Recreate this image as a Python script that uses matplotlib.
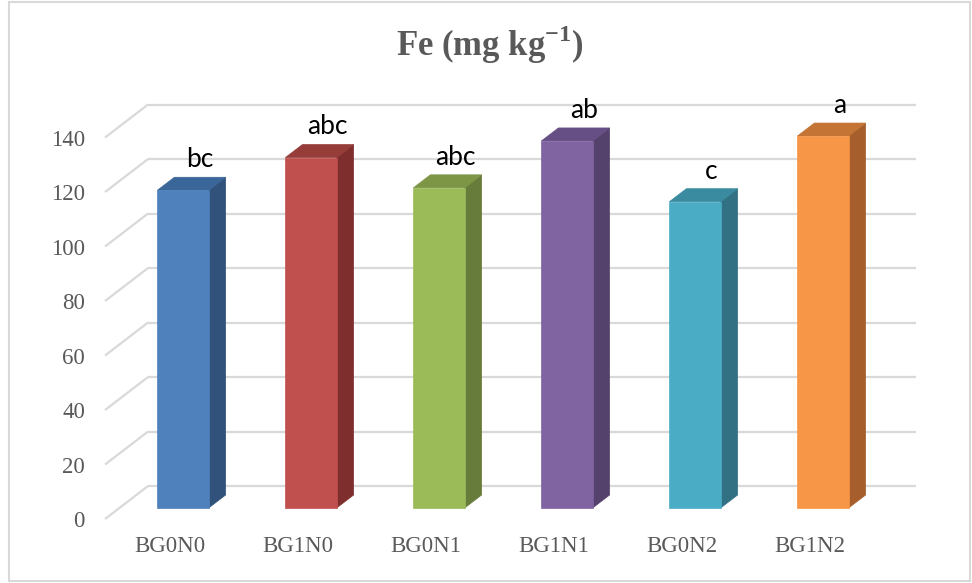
import matplotlib
matplotlib.use("Agg")
import matplotlib.pyplot as plt
from matplotlib.patches import Polygon, Rectangle

categories = ["BG0N0", "BG1N0", "BG0N1", "BG1N1", "BG0N2", "BG1N2"]
values = [116.6, 128.6, 117.5, 134.7, 112.4, 136.5]
letters = ["bc", "abc", "abc", "ab", "c", "a"]
yticks = [0, 20, 40, 60, 80, 100, 120, 140]

front_colors = ["#4F81BD", "#C0504D", "#9BBB59", "#8064A2", "#4BACC6", "#F79646"]
side_colors = ["#31527A", "#7E2F2D", "#677B3A", "#54426D", "#317183", "#A65F2C"]
top_colors = ["#3B6699", "#963D3A", "#7D9646", "#664F85", "#3A8AA0", "#C47535"]

plt.rcParams['mathtext.fontset'] = 'custom'
plt.rcParams['mathtext.rm'] = 'Liberation Serif:bold'
plt.rcParams['mathtext.bf'] = 'Liberation Serif:bold'

fig = plt.figure(figsize=(9.72, 5.83), dpi=100)
ax = fig.add_axes([0, 0, 1, 1])
pxu = 128.0       # pixels per category
pyu = 2.725       # pixels per value unit
ax.set_xlim(-183 / pxu, (972 - 183) / pxu)
ax.set_ylim(-75 / pyu, 508 / pyu)
ax.axis("off")

# outer border
fig.patches.append(Rectangle((9 / 972, 2 / 583), 961 / 972, 579 / 583, transform=fig.transFigure,
                             fill=False, edgecolor="#D9D9D9", linewidth=1.5))

grid_c = "#D9D9D9"
front_x, back_x, right_x = -0.609, -0.273, 5.73
front_dy, back_dy = -4.04, 8.07
for v in yticks:
    ax.plot([front_x, back_x], [v + front_dy, v + back_dy], color=grid_c, lw=1.6, zorder=1,
            solid_capstyle="butt")
    ax.plot([back_x, right_x], [v + back_dy, v + back_dy], color=grid_c, lw=1.6, zorder=1,
            solid_capstyle="butt")
    ax.text(-0.766, v + front_dy - 1.0, str(v), ha="right", va="center", fontsize=16.5,
            family="Liberation Serif", color="#595959")

hw = 0.2
dx = 17 / pxu
dy = 13 / pyu
for i, (v, fc, sc, tc) in enumerate(zip(values, front_colors, side_colors, top_colors)):
    ax.add_patch(Polygon([(i + hw, 0), (i + hw + dx, dy), (i + hw + dx, v + dy), (i + hw, v)],
                         closed=True, facecolor=sc, edgecolor=sc, lw=0.5, zorder=3))
    ax.add_patch(Polygon([(i - hw, v), (i - hw + dx, v + dy), (i + hw + dx, v + dy), (i + hw, v)],
                         closed=True, facecolor=tc, edgecolor=tc, lw=0.5, zorder=3))
    ax.add_patch(Rectangle((i - hw, 0), 2 * hw, v, facecolor=fc, edgecolor=fc, lw=0.5, zorder=4))
    ax.text(i + 0.13, v + 8.5, letters[i], ha="center", va="baseline", fontsize=19,
            family="Lato", color="black", zorder=5)
    ax.text(i - 0.105, -14.3, categories[i], ha="center", va="center", fontsize=16.5,
            family="Liberation Serif", color="#595959")

ax.text((490 - 183) / pxu, (508 - 45) / pyu, r"Fe (mg kg$^{\mathbf{-1}}$)", ha="center",
        va="center", fontsize=25, color="#595959", family="Liberation Serif", fontweight="bold")

fig.savefig("out.png", dpi=100)
